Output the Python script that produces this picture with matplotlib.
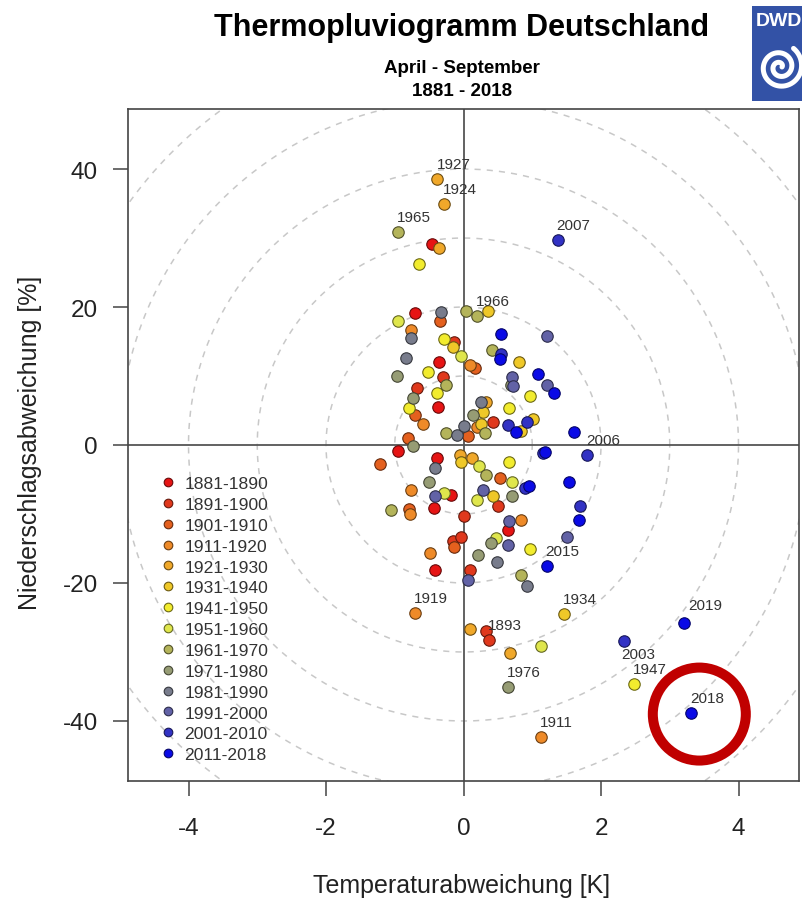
import numpy as np
import matplotlib
matplotlib.use("Agg")
import matplotlib.pyplot as plt
from matplotlib.lines import Line2D
from matplotlib.patches import Ellipse
import matplotlib.colors as mcolors

plt.rcParams['font.family'] = ['Liberation Sans', 'DejaVu Sans']

# ---------------- data ----------------
decade_labels = ["1881-1890", "1891-1900", "1901-1910", "1911-1920", "1921-1930",
                 "1931-1940", "1941-1950", "1951-1960", "1961-1970", "1971-1980",
                 "1981-1990", "1991-2000", "2001-2010", "2011-2018"]
decade_colors = ["#e61414", "#e0381c", "#e4601e", "#ee8a28", "#f0a82a",
                 "#efc828", "#f2ec2e", "#dfe64c", "#b4b45a", "#969c74",
                 "#787c8c", "#6262a6", "#3232c4", "#0a0ae6"]

# temperature anomaly [K] / precipitation anomaly [%] of the unlabelled years
t_1881 = [-0.46, -0.70, -0.35, -0.37, -0.95, -0.38, -0.18, -0.43, 0.65, -0.41]
p_1881 = [29.2, 19.1, 12.0, 5.5, -0.9, -1.9, -7.3, -9.1, -12.3, -18.1]
t_1891 = [-0.14, -0.30, -0.67, 0.43, 0.50, 0.01, -0.16, -0.04, 0.10, 0.32]
p_1891 = [14.9, 9.8, 8.3, 3.4, -8.9, -10.3, -13.9, -13.4, -18.1, -27.0]
t_1901 = [-0.34, 0.16, -0.71, -0.81, -1.22, 0.06, 0.53, -0.80, -0.14]
p_1901 = [18.0, 11.2, 4.4, 1.0, -2.75, 1.35, -4.8, -9.3, -14.8]
t_1911 = [-0.76, 0.09, -0.59, 0.19, -0.76, -0.78, 0.83, -0.49]
p_1911 = [16.6, 11.6, 3.0, 2.6, -6.5, -10.0, -10.8, -15.6]
t_1921 = [-0.35, 0.33, 0.13, -0.05, 0.10, 0.67]
p_1921 = [28.5, 6.2, -1.9, -1.5, -26.6, -30.2]
t_1931 = [0.35, -0.15, 0.80, 0.25, 0.29, 0.84, 1.01, -0.03, 0.43]
p_1931 = [19.4, 14.2, 12.0, 3.0, 4.8, 2.0, 3.7, -2.5, -7.4]
t_1941 = [-0.65, -0.28, -0.52, -0.39, -0.80, 0.66, 0.96, 0.66, 0.97]
p_1941 = [26.2, 15.3, 10.6, 7.5, 5.4, 5.3, 7.1, -2.5, -15.1]
t_1951 = [-0.96, -0.03, 0.70, -0.28, 0.19, 0.47, 1.12, 0.22]
p_1951 = [18.0, 12.9, -5.3, -6.9, -7.9, -13.5, -29.1, -3.0]
t_1961 = [0.04, 0.41, -0.26, -0.25, 0.31, 0.33, -1.06, 0.83]
p_1961 = [19.4, 13.7, 8.7, 1.7, 1.7, -4.3, -9.4, -18.9]
t_1971 = [-0.97, -0.74, -0.73, 0.69, -0.50, 0.71, 0.21, 0.14, 0.40]
p_1971 = [10.0, 6.8, -0.2, 8.7, -5.3, -7.4, -16.0, 4.3, -14.2]
t_1981 = [-0.33, -0.76, -0.84, -0.10, 0.00, 0.25, -0.42, 0.48, 0.93]
p_1981 = [19.3, 15.5, 12.6, 1.45, 2.8, 6.2, -3.4, -16.9, -20.4]
t_1991 = [1.22, 0.71, 0.72, 1.22, -0.41, 0.28, 0.66, 0.64, 1.51, 0.06]
p_1991 = [15.8, 9.8, 8.6, 8.7, -7.4, -6.5, -11.0, -14.5, -13.4, -19.6]
t_2001 = [0.54, 0.65, 0.93, 1.16, 0.89, 1.70]
p_2001 = [13.2, 2.9, 3.4, -1.2, -6.3, -8.9]
t_2011 = [0.55, 0.53, 0.77, 1.08, 1.32, 1.60, 1.19, 0.95, 1.54, 1.68]
p_2011 = [16.1, 12.5, 1.9, 10.3, 7.5, 1.9, -1.0, -5.9, -5.3, -10.9]

decade_t = [t_1881, t_1891, t_1901, t_1911, t_1921, t_1931, t_1941,
            t_1951, t_1961, t_1971, t_1981, t_1991, t_2001, t_2011]
decade_p = [p_1881, p_1891, p_1901, p_1911, p_1921, p_1931, p_1941,
            p_1951, p_1961, p_1971, p_1981, p_1991, p_2001, p_2011]

# labelled years
label_years = [1893, 1911, 1919, 1924, 1927, 1934, 1947, 1965, 1966, 1976,
               2003, 2006, 2007, 2015, 2018, 2019]
label_t = [0.37, 1.12, -0.71, -0.28, -0.38, 1.46, 2.48, -0.95, 0.19, 0.64,
           2.33, 1.80, 1.37, 1.21, 3.31, 3.20]
label_p = [-28.2, -42.3, -24.3, 34.9, 38.6, -24.5, -34.6, 30.9, 18.7, -35.1,
           -28.4, -1.45, 29.7, -17.6, -38.8, -25.8]

x_ticks = [-4, -2, 0, 2, 4]
y_ticks = [-40, -20, 0, 20, 40]
circle_radii_k = [1, 2, 3, 4, 5, 6, 7]   # 1 K corresponds to 10 %
highlight_t, highlight_p = 3.43, -39.0     # red ring around 2018

# ---------------- figure ----------------
W, H = 802, 904
fig = plt.figure(figsize=(W / 100, H / 100), dpi=100)
ax = fig.add_axes([128 / W, (H - 782) / H, (799 - 128) / W, (782 - 110) / H])
ax.set_xlim(-4.88, 4.88)
ax.set_ylim(-48.7, 48.7)

# dashed circles
th = np.linspace(0, 2 * np.pi, 600)
for r in circle_radii_k:
    ax.plot(r * np.cos(th), 10 * r * np.sin(th), ls=(0, (4, 4)), color="#c8c8c8",
            lw=1.1, zorder=1)

ax.axhline(0, color="#555555", lw=1.3, zorder=2)
ax.axvline(0, color="#555555", lw=1.3, zorder=2)


def darker(c, f=0.45):
    r, g, b = mcolors.to_rgb(c)
    return (r * f, g * f, b * f)


def decade_of(year):
    return min((year - 1881) // 10, 13)


handles = []
for i, lab in enumerate(decade_labels):
    xs = list(decade_t[i])
    ys = list(decade_p[i])
    for yr, lt, lp in zip(label_years, label_t, label_p):
        if decade_of(yr) == i:
            xs.append(lt)
            ys.append(lp)
    ax.scatter(xs, ys, s=68, c=decade_colors[i], edgecolors=[darker(decade_colors[i])],
               linewidths=0.8, zorder=3 + i * 0.01)
    handles.append(Line2D([], [], marker='o', ls='', markersize=6.2,
                          mfc=decade_colors[i], mec=darker(decade_colors[i]), mew=0.8,
                          label=lab))

# year labels
label_offsets = {2003: (-2, -20), 2019: (5, 11)}
for yr, lt, lp in zip(label_years, label_t, label_p):
    dx, dy = label_offsets.get(yr, (-1, 8))
    ax.annotate(str(yr), (lt, lp), xytext=(dx * 0.72, dy * 0.72), textcoords="offset points",
                ha="left", va="bottom", fontsize=11, color="#333333", zorder=6)

# highlight ring
ax.add_patch(Ellipse((highlight_t, highlight_p), width=2 * 46.5 / 68.75,
                     height=2 * 46.5 / 6.9, fill=False, ec="#c00000", lw=7.2, zorder=7))

leg = ax.legend(handles=handles, loc="upper left", bbox_to_anchor=(0.046, 0.454),
                frameon=False, fontsize=12.6, labelspacing=0.32, handlelength=1.0,
                handletextpad=0.45, borderpad=0, borderaxespad=0)
for t in leg.get_texts():
    t.set_color("#333333")

ax.set_xticks(x_ticks)
ax.set_yticks(y_ticks)
ax.set_xticklabels([str(v) for v in x_ticks])
ax.set_yticklabels([str(v) for v in y_ticks])
ax.tick_params(axis="both", direction="out", length=10.8, width=1.1, color="#444444",
               labelsize=17.5, labelcolor="#222222")
ax.tick_params(axis="x", pad=15)
ax.tick_params(axis="y", pad=11)
for sp in ax.spines.values():
    sp.set_color("#444444")
    sp.set_linewidth(1.2)

# axis titles
fig.text(462 / W, 1 - 886 / H, "Temperaturabweichung [K]", ha="center", va="center",
         fontsize=18, color="#222222")
fig.text(30 / W, 1 - 443 / H, "Niederschlagsabweichung [%]", ha="center", va="center",
         rotation=90, fontsize=18, color="#222222")

# titles
fig.text(462 / W, 1 - 36 / H, "Thermopluviogramm Deutschland", ha="center", va="baseline",
         fontsize=22, fontweight="bold", color="#000000")
fig.text(462 / W, 1 - 73 / H, "April - September", ha="center", va="baseline",
         fontsize=13.5, fontweight="bold", color="#000000")
fig.text(462 / W, 1 - 96 / H, "1881 - 2018", ha="center", va="baseline",
         fontsize=13.5, fontweight="bold", color="#000000")

# DWD logo
lax = fig.add_axes([752 / W, (H - 102) / H, 60 / W, 95 / H])
lax.set_xlim(0, 60)
lax.set_ylim(95, 0)
lax.set_facecolor("#3352a6")
lax.set_xticks([])
lax.set_yticks([])
for sp in lax.spines.values():
    sp.set_visible(False)
lax.text(4, 14, "DWD", color="white", fontsize=14, fontweight="bold", ha="left", va="center")
ts = np.linspace(0.0, 4.3 * np.pi, 400)
rs = 2.0 + 21.0 * ts / (4.3 * np.pi)
lax.plot(28 + rs * np.cos(ts), 61 - rs * np.sin(ts), color="white", lw=3.6,
         solid_capstyle="round")

fig.savefig("out.png", dpi=100)
